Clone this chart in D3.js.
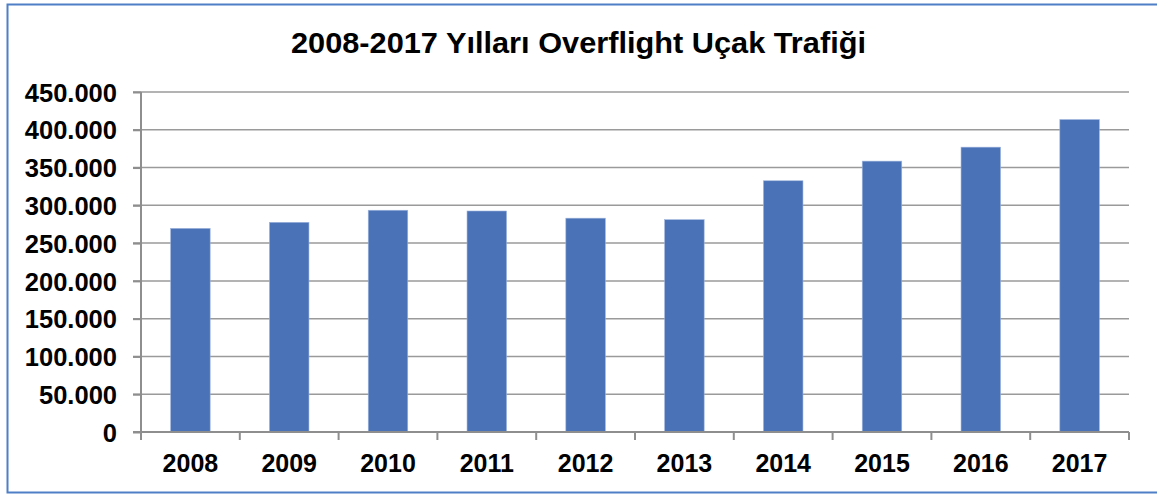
<!DOCTYPE html>
<html lang="tr">
<head>
    <meta charset="utf-8">
    <title>2008-2017 Overflight</title>
    <script src="https://d3js.org/d3.v7.min.js"></script>
    <style>
        body { margin: 0; background: #fff; }
        svg text { font-family: "Liberation Sans", Arial, sans-serif; font-weight: bold; fill: #000; }
    </style>
</head>
<body>
<div id="chart"></div>
<script>
    // data
    const years = ["2008", "2009", "2010", "2011", "2012", "2013", "2014", "2015", "2016", "2017"];
    const flights = [269500, 277500, 293500, 292500, 283000, 281000, 332500, 358500, 377000, 413500];
    const yTicks = [0, 50000, 100000, 150000, 200000, 250000, 300000, 350000, 400000, 450000];
    const title = "2008-2017 Yılları Overflight Uçak Trafiği";

    const width = 1157, height = 495;
    const margin = {top: 92, right: 28, bottom: 63, left: 141};

    const svg = d3.select("#chart").append("svg")
        .attr("width", width)
        .attr("height", height);

    // outer frame
    svg.append("rect")
        .attr("x", 7.5).attr("y", 4.5)
        .attr("width", width)
        .attr("height", 488)
        .attr("fill", "none")
        .attr("stroke", "#4f7fc6")
        .attr("stroke-width", 2);

    const x = d3.scaleBand()
        .domain(years)
        .range([margin.left, width - margin.right])
        .paddingInner(0.6)
        .paddingOuter(0.3);

    const y = d3.scaleLinear()
        .domain([0, 450000])
        .range([height - margin.bottom, margin.top]);

    const fmt = d => d === 0 ? "0" : d3.format(",")(d).replace(/,/g, ".");

    // gridlines
    svg.append("g")
        .selectAll("line")
        .data(yTicks.filter(d => d > 0))
        .join("line")
        .attr("x1", margin.left - 8)
        .attr("x2", width - margin.right)
        .attr("y1", d => y(d))
        .attr("y2", d => y(d))
        .attr("stroke", "#9a9a9a")
        .attr("stroke-width", 1.5);

    // bars
    svg.append("g")
        .selectAll("rect")
        .data(flights)
        .join("rect")
        .attr("x", (d, i) => x(years[i]))
        .attr("y", d => y(d))
        .attr("width", x.bandwidth())
        .attr("height", d => y(0) - y(d))
        .attr("fill", "#4a72b7")
        .attr("stroke", "#9db3dc")
        .attr("stroke-width", 0.6);

    // y axis
    const yAxis = svg.append("g")
        .attr("transform", `translate(${margin.left},0)`)
        .call(d3.axisLeft(y).tickValues(yTicks).tickFormat(fmt).tickSize(8).tickPadding(16));
    yAxis.selectAll("line, path").attr("stroke", "#8e8e8e").attr("stroke-width", 2);
    yAxis.selectAll("text").attr("font-size", 25.5).attr("dy", "0.36em");
    yAxis.select(".domain").attr("d", `M0,${y(450000)}V${y(0)}`);

    // x axis
    const xAxis = svg.append("g")
        .attr("transform", `translate(0,${y(0)})`);
    xAxis.append("line")
        .attr("x1", margin.left - 8).attr("x2", width - margin.right)
        .attr("stroke", "#8e8e8e").attr("stroke-width", 2);
    const step = x.step();
    xAxis.selectAll(".tk")
        .data(d3.range(years.length + 1))
        .join("line")
        .attr("class", "tk")
        .attr("x1", i => margin.left + i * step)
        .attr("x2", i => margin.left + i * step)
        .attr("y1", 0).attr("y2", 8)
        .attr("stroke", "#8e8e8e").attr("stroke-width", 2);
    xAxis.selectAll(".lbl")
        .data(years)
        .join("text")
        .attr("class", "lbl")
        .attr("x", d => x(d) + x.bandwidth() / 2)
        .attr("y", 40)
        .attr("text-anchor", "middle")
        .attr("font-size", 25)
        .text(d => d);

    // title
    svg.append("text")
        .attr("x", 578.5)
        .attr("y", 52.5)
        .attr("text-anchor", "middle")
        .attr("font-size", 29)
        .attr("textLength", 575)
        .attr("lengthAdjust", "spacingAndGlyphs")
        .text(title);
</script>
</body>
</html>
